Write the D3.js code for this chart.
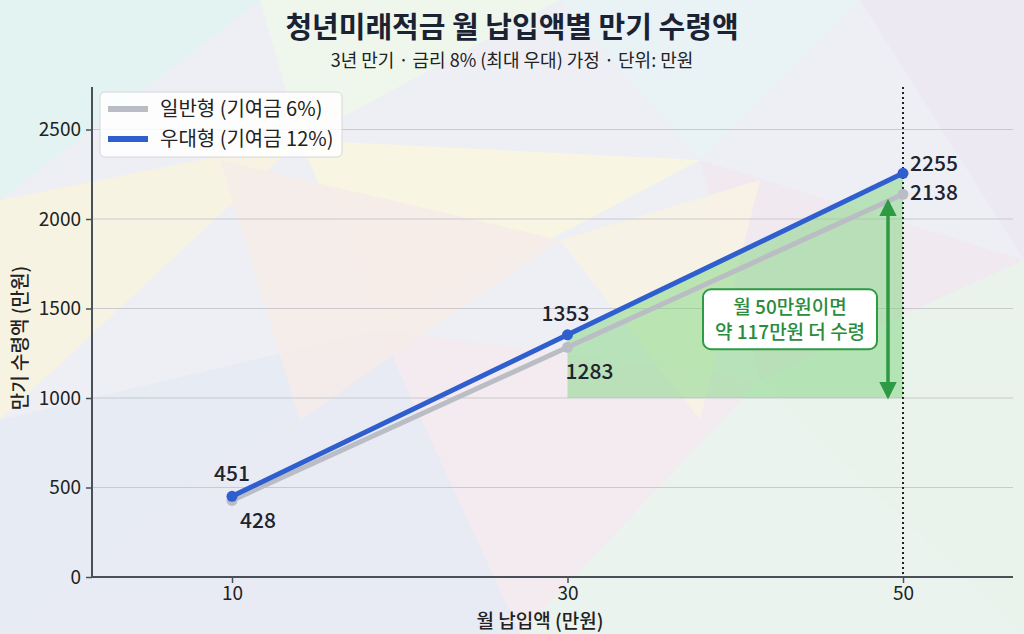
<!DOCTYPE html>
<html>
<head>
<meta charset="utf-8">
<script src="https://cdn.jsdelivr.net/npm/d3@7"></script>
<style>
  html, body { margin: 0; padding: 0; background: #eeeff4; }
  svg { display: block; font-family: "Noto Sans CJK KR", "Noto Sans", sans-serif; }
</style>
</head>
<body>
<svg id="chart" width="1024" height="634"></svg>
<script>
// ── Data ──────────────────────────────────────────────────────────────────
const payments   = [10, 30, 50];            // 월 납입액 (만원)
const basicVals  = [428, 1283, 2138];       // 일반형 (기여금 6%)
const premVals   = [451, 1353, 2255];       // 우대형 (기여금 12%)
const yTicks     = [0, 500, 1000, 1500, 2000, 2500];
const seriesNames = ['일반형 (기여금 6%)', '우대형 (기여금 12%)'];
const titleText    = '청년미래적금 월 납입액별 만기 수령액';
const subtitleText = '3년 만기 · 금리 8% (최대 우대) 가정 · 단위: 만원';
const noteLines    = ['월 50만원이면', '약 117만원 더 수령'];

const W = 1024, H = 634;
const m = { left: 92, right: 11, top: 87, bottom: 57 };
const iw = W - m.left - m.right, ih = H - m.top - m.bottom;

const svg = d3.select('#chart');

// ── Background (pastel low-poly) ──────────────────────────────────────────
const bgTris = [
  [[0,0],[260,0],[0,200],'#e0f3f1'],
  [[260,0],[560,0],[300,140],'#eef6ea'],
  [[560,0],[860,0],[700,160],'#e8f2f5'],
  [[860,0],[1024,0],[1024,260],'#ebe8f3'],
  [[0,200],[300,140],[0,420],'#f6f3e0'],
  [[300,140],[700,160],[380,330],'#f8f5e1'],
  [[700,160],[1024,260],[760,380],'#f1e8f0'],
  [[0,420],[380,330],[0,634],'#e6eaf3'],
  [[380,330],[760,380],[520,634],'#f3eaf0'],
  [[760,380],[1024,260],[1024,634],'#e8f3ea'],
  [[520,634],[760,380],[1024,634],'#e9f3ec'],
  [[0,634],[380,330],[520,634],'#e7e9f4'],
  [[220,160],[560,240],[300,420],'#f5ece9'],
  [[560,240],[760,180],[700,420],'#f7f2e4']
];
svg.append('rect').attr('width', W).attr('height', H).attr('fill', '#eeeff4');
svg.append('g').selectAll('path').data(bgTris).join('path')
  .attr('d', d => `M${d[0]}L${d[1]}L${d[2]}Z`)
  .attr('fill', d => d[3]).attr('opacity', 0.9);

// ── Scales ────────────────────────────────────────────────────────────────
// 10 → 140px, 50 → 811px inside the plot; extend the domain to the plot edges
const x = d3.scaleLinear().domain([10, 50]).range([140, 811]);
x.domain([x.invert(0), x.invert(iw)]).range([0, iw]);
const y = d3.scaleLinear().domain([0, 1000]).range([ih, ih - 179]);
y.domain([0, y.invert(0)]).range([ih, 0]);

const g = svg.append('g').attr('transform', `translate(${m.left},${m.top})`);

// grid
g.append('g').selectAll('line').data(yTicks.filter(t => t > 0)).join('line')
  .attr('x1', 0).attr('x2', iw)
  .attr('y1', d => y(d)).attr('y2', d => y(d))
  .attr('stroke', '#c9c9cf').attr('stroke-width', 1);

// ── Shaded gain region (30 → 50) ──────────────────────────────────────────
const shade = payments.map((p, i) => ({ p, v: premVals[i] })).filter(d => d.p >= 30);
g.append('path').datum(shade)
  .attr('d', d3.area().x(d => x(d.p)).y0(y(1000)).y1(d => y(d.v)))
  .attr('fill', '#7fd67f').attr('fill-opacity', 0.5);

// dotted reference at 50
g.append('line')
  .attr('x1', x(50)).attr('x2', x(50)).attr('y1', 0).attr('y2', ih)
  .attr('stroke', '#222').attr('stroke-width', 2).attr('stroke-dasharray', '2,3');

// ── Axes ──────────────────────────────────────────────────────────────────
const yAx = g.append('g').call(d3.axisLeft(y).tickValues(yTicks).tickFormat(d3.format('d'))
  .tickSize(6).tickPadding(5));
const xAx = g.append('g').attr('transform', `translate(0,${ih})`)
  .call(d3.axisBottom(x).tickValues(payments).tickFormat(d3.format('d')).tickSize(6).tickPadding(4));
[yAx, xAx].forEach(a => {
  a.select('.domain').attr('stroke', '#4a5058').attr('stroke-width', 2);
  a.selectAll('.tick line').attr('stroke', '#4a5058').attr('stroke-width', 1.5);
  a.selectAll('text').attr('font-size', 19).attr('fill', '#222')
    .attr('font-family', '"Noto Sans CJK KR", sans-serif');
});
xAx.select('.domain').attr('d', `M0,0H${iw}`);
yAx.select('.domain').attr('d', `M0,0V${ih}`);

// ── Lines ─────────────────────────────────────────────────────────────────
const line = d3.line().x(d => x(d.p)).y(d => y(d.v));
const series = [
  { name: seriesNames[0], vals: basicVals, color: '#babdc4' },
  { name: seriesNames[1], vals: premVals,  color: '#2f5fcf' }
];
series.forEach(s => {
  const pts = payments.map((p, i) => ({ p, v: s.vals[i] }));
  g.append('path').datum(pts).attr('d', line)
    .attr('fill', 'none').attr('stroke', s.color).attr('stroke-width', 5)
    .attr('stroke-linecap', 'round');
  g.append('g').selectAll('circle').data(pts).join('circle')
    .attr('cx', d => x(d.p)).attr('cy', d => y(d.v)).attr('r', 5.5)
    .attr('fill', s.color);
});

// value labels
const lab = (px, v, dx, dy, anchor) => g.append('text')
  .attr('x', x(px) + dx).attr('y', y(v) + dy)
  .attr('text-anchor', anchor).attr('font-size', 21).attr('font-weight', 500)
  .attr('fill', '#1d2430').text(v);
lab(payments[0], premVals[0], 0, -15, 'middle');
lab(payments[0], basicVals[0], 8, 28, 'start');
lab(payments[1], premVals[1], -2, -14, 'middle');
lab(payments[1], basicVals[1], -2, 32, 'start');
lab(payments[2], premVals[2], 7, -2, 'start');
lab(payments[2], basicVals[2], 7, 6, 'start');

// ── Difference arrow + note ───────────────────────────────────────────────
const green = '#2e9a44';
const defs = svg.append('defs');
['s', 'e'].forEach(k => {
  defs.append('marker').attr('id', 'arr-' + k)
    .attr('viewBox', '0 0 10 10').attr('refX', 8).attr('refY', 5)
    .attr('markerWidth', 5).attr('markerHeight', 5)
    .attr('orient', k === 's' ? 'auto-start-reverse' : 'auto')
    .append('path').attr('d', 'M0,0L10,5L0,10Z').attr('fill', green);
});
const ax = x(50) - 15;
g.append('line')
  .attr('x1', ax).attr('x2', ax)
  .attr('y1', y(basicVals[2]) + 8).attr('y2', y(1000) - 2)
  .attr('stroke', green).attr('stroke-width', 3.5)
  .attr('marker-start', 'url(#arr-s)').attr('marker-end', 'url(#arr-e)');

const nx = x(50) - 113, ny = y(1440);
g.append('rect')
  .attr('x', nx - 87).attr('y', ny - 30).attr('width', 174).attr('height', 60)
  .attr('rx', 8).attr('fill', '#fff').attr('stroke', green).attr('stroke-width', 2);
g.append('text').attr('x', nx).attr('y', ny - 5).attr('text-anchor', 'middle')
  .attr('font-size', 19).attr('font-weight', 500).attr('fill', '#2a8c3c')
  .selectAll('tspan').data(noteLines).join('tspan')
  .attr('x', nx).attr('dy', (d, i) => i ? 25 : 0).text(d => d);

// ── Legend ────────────────────────────────────────────────────────────────
const lg = svg.append('g').attr('transform', 'translate(100,92)');
lg.append('rect').attr('width', 242).attr('height', 65).attr('rx', 5)
  .attr('fill', '#fff').attr('fill-opacity', 0.85).attr('stroke', '#d6d6dc');
series.forEach((s, i) => {
  const row = lg.append('g').attr('transform', `translate(0,${17 + i * 30})`);
  row.append('line').attr('x1', 8).attr('x2', 48).attr('stroke', s.color).attr('stroke-width', 6);
  row.append('text').attr('x', 60).attr('y', 7).attr('font-size', 20)
    .attr('fill', '#222').text(s.name);
});

// ── Titles ────────────────────────────────────────────────────────────────
svg.append('text').attr('x', 512).attr('y', 38).attr('text-anchor', 'middle')
  .attr('font-size', 29).attr('font-weight', 700).attr('fill', '#1a2233').text(titleText);
svg.append('text').attr('x', 512).attr('y', 67).attr('text-anchor', 'middle')
  .attr('font-size', 18).attr('fill', '#222').text(subtitleText);
svg.append('text').attr('x', 540).attr('y', 628).attr('text-anchor', 'middle')
  .attr('font-size', 19).attr('font-weight', 500).attr('fill', '#222').text('월 납입액 (만원)');
svg.append('text').attr('transform', 'translate(27,338) rotate(-90)').attr('text-anchor', 'middle')
  .attr('font-size', 19).attr('font-weight', 500).attr('fill', '#222').text('만기 수령액 (만원)');
</script>
</body>
</html>
